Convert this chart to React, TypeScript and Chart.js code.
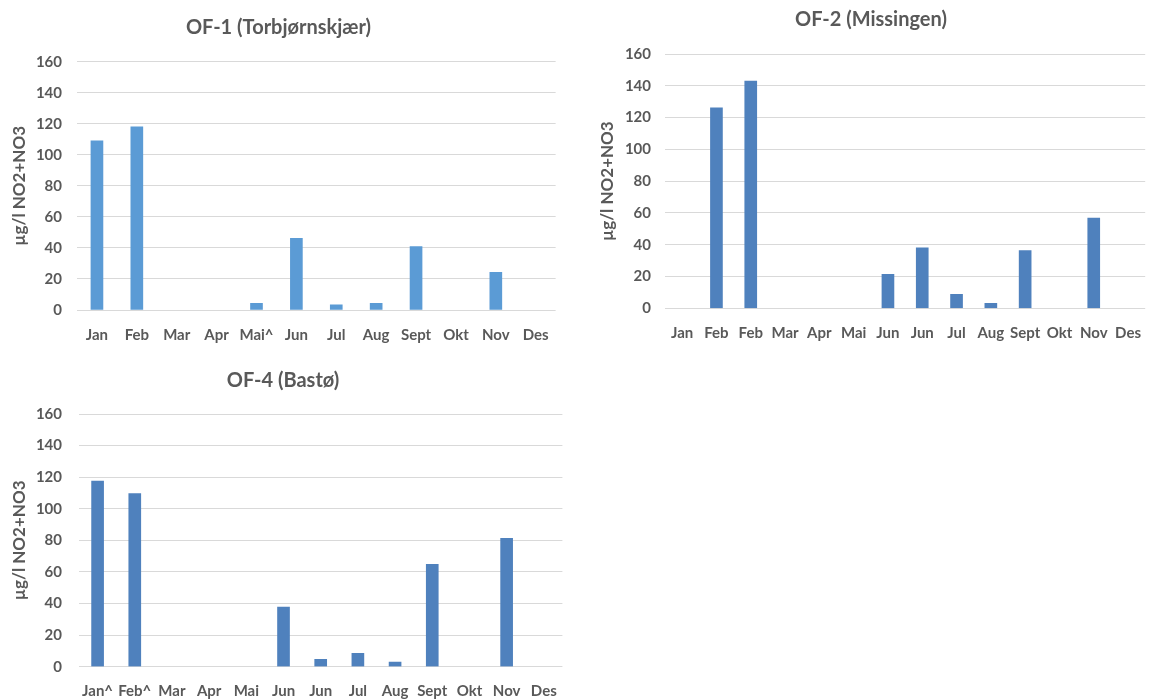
import React, { useEffect, useRef } from "react";
import { Chart, registerables } from "chart.js";

Chart.register(...registerables);

// ---- Data ----
const labelsOF1 = ["Jan", "Feb", "Mar", "Apr", "Mai^", "Jun", "Jul", "Aug", "Sept", "Okt", "Nov", "Des"];
const valuesOF1: (number | null)[] = [109, 118, null, null, 4.3, 46.2, 3.4, 4.3, 40.8, null, 24.3, null];

const labelsOF2 = ["Jan", "Feb", "Feb", "Mar", "Apr", "Mai", "Jun", "Jun", "Jul", "Aug", "Sept", "Okt", "Nov", "Des"];
const valuesOF2: (number | null)[] = [null, 126.2, 143, null, null, null, 21.4, 38, 8.8, 3.1, 36.3, null, 56.7, null];

const labelsOF4 = ["Jan^", "Feb^", "Mar", "Apr", "Mai", "Jun", "Jun", "Jul", "Aug", "Sept", "Okt", "Nov", "Des"];
const valuesOF4: (number | null)[] = [117.6, 109.6, null, null, null, 37.8, 4.6, 8.5, 3, 64.8, null, 81.3, null];

const yMin = 0;
const yMax = 160;
const yStep = 20;
const yAxisTitle = "µg/l NO2+NO3";

const FONT = 'Lato, "Open Sans", "Liberation Sans", sans-serif';
const TEXT = "#595959";
const GRID = "#D9D9D9";

type PanelProps = {
  left: number;
  top: number;
  width: number;
  height: number;
  title: string;
  labels: string[];
  values: (number | null)[];
  color: string;
  yAxisWidth: number;
  xAxisHeight: number;
  titlePadTop: number;
  titlePadBottom: number;
  padRight: number;
  yTickPad: number;
  yTitlePad: number;
  xTickPad: number;
};

function BarPanel(p: PanelProps) {
  const ref = useRef<HTMLCanvasElement | null>(null);
  useEffect(() => {
    if (!ref.current) return;
    const chart = new Chart(ref.current, {
      type: "bar",
      data: {
        labels: p.labels,
        datasets: [
          {
            data: p.values,
            backgroundColor: p.color,
            borderWidth: 0,
            barThickness: 12,
          },
        ],
      },
      options: {
        responsive: false,
        maintainAspectRatio: false,
        animation: false,
        devicePixelRatio: 1,
        layout: { padding: { left: 0, right: p.padRight, top: 0, bottom: 0 } },
        plugins: {
          legend: { display: false },
          tooltip: { enabled: false },
          title: {
            display: true,
            text: p.title,
            color: TEXT,
            font: { family: FONT, size: 20, weight: "bold", lineHeight: 1.2 },
            padding: { top: p.titlePadTop, bottom: p.titlePadBottom },
          },
        },
        scales: {
          x: {
            grid: { display: false, drawTicks: false },
            border: { display: false },
            ticks: {
              color: TEXT,
              font: { family: FONT, size: 15, weight: "bold" },
              padding: p.xTickPad,
              autoSkip: false,
              maxRotation: 0,
              minRotation: 0,
            },
            afterFit: (scale: any) => {
              scale.height = p.xAxisHeight;
            },
          },
          y: {
            min: yMin,
            max: yMax,
            grid: { color: GRID, lineWidth: 1, drawTicks: false },
            border: { display: false },
            ticks: {
              stepSize: yStep,
              color: TEXT,
              font: { family: FONT, size: 15, weight: "bold" },
              padding: p.yTickPad,
            },
            title: {
              display: true,
              text: yAxisTitle,
              color: TEXT,
              font: { family: FONT, size: 17, weight: "bold", lineHeight: 1.2 },
              padding: { top: p.yTitlePad, bottom: 0 },
            },
            afterFit: (scale: any) => {
              scale.width = p.yAxisWidth;
            },
          },
        },
      },
    } as any);
    return () => chart.destroy();
  }, []);
  return (
    <canvas
      ref={ref}
      width={p.width}
      height={p.height}
      style={{ position: "absolute", left: p.left, top: p.top, width: p.width, height: p.height }}
    />
  );
}

export default function App() {
  return (
    <div
      style={{
        position: "absolute",
        left: 0,
        top: 0,
        width: 1157,
        height: 700,
        background: "#ffffff",
        overflow: "hidden",
      }}
    >
      <BarPanel
        left={0}
        top={0}
        width={565}
        height={350}
        title="OF-1 (Torbjørnskjær)"
        labels={labelsOF1}
        values={valuesOF1}
        color="#5B9BD5"
        yAxisWidth={77}
        xAxisHeight={40}
        titlePadTop={16}
        titlePadBottom={21.7}
        padRight={8}
        yTickPad={15}
        yTitlePad={9.8}
        xTickPad={16}
      />
      <BarPanel
        left={585}
        top={0}
        width={572}
        height={350}
        title="OF-2 (Missingen)"
        labels={labelsOF2}
        values={valuesOF2}
        color="#4F81BD"
        yAxisWidth={80}
        xAxisHeight={41.7}
        titlePadTop={8}
        titlePadBottom={22}
        padRight={0}
        yTickPad={14}
        yTitlePad={12.8}
        xTickPad={16}
      />
      <BarPanel
        left={0}
        top={360}
        width={572}
        height={340}
        title="OF-4 (Bastø)"
        labels={labelsOF4}
        values={valuesOF4}
        color="#4F81BD"
        yAxisWidth={79}
        xAxisHeight={33.3}
        titlePadTop={9}
        titlePadBottom={21}
        padRight={6}
        yTickPad={17}
        yTitlePad={9.8}
        xTickPad={15}
      />
    </div>
  );
}
